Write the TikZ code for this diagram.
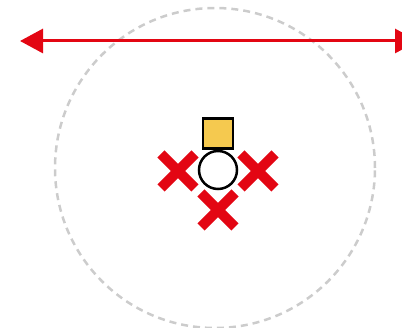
\documentclass[tikz,border=0pt]{standalone}
\usepackage{xcolor}
\definecolor{cred}{HTML}{E30613}
\definecolor{cgold}{HTML}{F5C94F}
\definecolor{cgray}{HTML}{CCCCCC}
\usetikzlibrary{arrows.meta,positioning,shapes.misc}

\begin{document}
\begin{tikzpicture}[
  x=1pt, y=-1pt, >={Triangle[length=23pt, width=24pt]},
  zonering/.style={circle, draw=cgray, line width=2.5pt, dash pattern=on 7pt off 5pt, minimum size=320pt, inner sep=0pt},
  agent/.style={circle, draw=black, line width=2.5pt, fill=white, minimum size=38pt, inner sep=0pt},
  target/.style={rectangle, draw=black, line width=2.5pt, fill=cgold, minimum size=30pt, inner sep=0pt},
  blocked/.style={cross out, draw=cred, line width=10pt, minimum size=24pt, inner sep=0pt},
  reach/.style={<->, draw=cred, line width=3pt},
]
  \useasboundingbox (0,0) rectangle (402,328);

  \node[zonering] (zone) at (215,168) {};
  \node[agent] (me) at (218,170) {};
  \node[target, above=0pt of me] (goal) {};
  \node[blocked] (xl) at (178,171) {};
  \node[blocked] (xr) at (258,171) {};
  \node[blocked] (xb) at (218,210) {};

  \coordinate (lend) at (20,41);
  \coordinate (rend) at (418,41);
  \draw[reach] (lend) -- (rend);
\end{tikzpicture}
\end{document}
